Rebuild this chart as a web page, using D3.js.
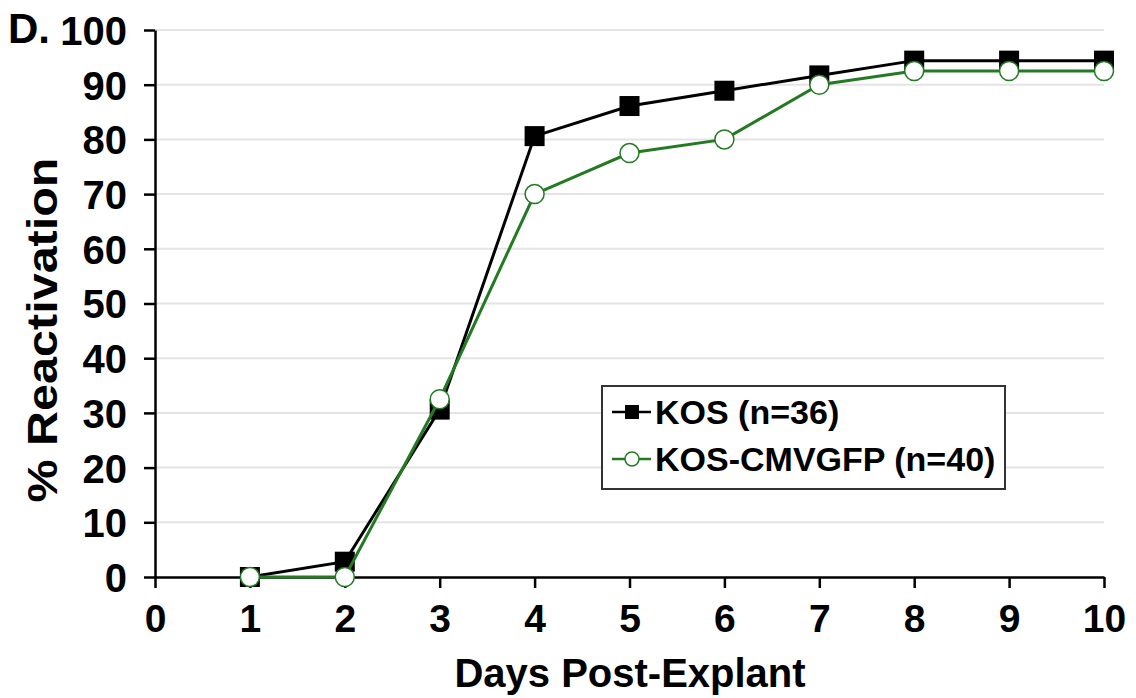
<!DOCTYPE html>
<html>
<head>
<meta charset="utf-8">
<script src="https://cdn.jsdelivr.net/npm/d3@7"></script>
<style>
  body { margin: 0; background: #fff; }
  svg text { font-family: "Liberation Sans", Arial, sans-serif; font-weight: bold; fill: #000; }
</style>
</head>
<body>
<svg width="1136" height="698"></svg>
<script>
// data
var days = [1, 2, 3, 4, 5, 6, 7, 8, 9, 10];
var kos = [0, 2.8, 30.6, 80.6, 86.1, 88.9, 91.7, 94.4, 94.4, 94.4];
var kosGfp = [0, 0, 32.5, 70, 77.5, 80, 90, 92.5, 92.5, 92.5];
var xTicks = [0, 1, 2, 3, 4, 5, 6, 7, 8, 9, 10];
var yTicks = [0, 10, 20, 30, 40, 50, 60, 70, 80, 90, 100];
var seriesNames = ["KOS (n=36)", "KOS-CMVGFP (n=40)"];

var green = "#237a23";

var svg = d3.select("svg");

var x = d3.scaleLinear().domain([0, 10]).range([155, 1104]);
var y = d3.scaleLinear().domain([0, 100]).range([577, 30]);

// gridlines
svg.append("g")
  .selectAll("line")
  .data(yTicks.filter(function(d) { return d > 0; }))
  .enter().append("line")
  .attr("x1", x(0)).attr("x2", x(10))
  .attr("y1", function(d) { return y(d); })
  .attr("y2", function(d) { return y(d); })
  .attr("stroke", "#e4e4e4")
  .attr("stroke-width", 2);

// x axis
var xAxis = svg.append("g")
  .attr("transform", "translate(0," + y(0) + ")")
  .call(d3.axisBottom(x).tickValues(xTicks).tickSize(11).tickPadding(16).tickSizeOuter(0));
xAxis.select(".domain").attr("stroke", "#000").attr("stroke-width", 2.5);
xAxis.selectAll(".tick line").attr("stroke", "#000").attr("stroke-width", 2.5);
xAxis.selectAll(".tick text").attr("font-size", "39px").attr("dy", "0.71em");

// y axis
var yAxis = svg.append("g")
  .attr("transform", "translate(" + x(0) + ",0)")
  .call(d3.axisLeft(y).tickValues(yTicks).tickSize(11).tickPadding(17).tickSizeOuter(0));
yAxis.select(".domain").attr("stroke", "#000").attr("stroke-width", 2.5);
yAxis.selectAll(".tick line").attr("stroke", "#000").attr("stroke-width", 2.5);
yAxis.selectAll(".tick text").attr("font-size", "40px").attr("dy", "0.36em");

// titles
svg.append("text")
  .attr("x", 630).attr("y", 687)
  .attr("text-anchor", "middle")
  .attr("font-size", "40px")
  .text("Days Post-Explant");

svg.append("text")
  .attr("transform", "translate(57,330) rotate(-90)")
  .attr("text-anchor", "middle")
  .attr("font-size", "42px")
  .attr("textLength", 345)
  .attr("lengthAdjust", "spacingAndGlyphs")
  .text("% Reactivation");

svg.append("text")
  .attr("x", 8).attr("y", 43)
  .attr("font-size", "42px")
  .text("D.");

// lines
var line = d3.line()
  .x(function(d, i) { return x(days[i]); })
  .y(function(d) { return y(d); });

svg.append("path")
  .datum(kos)
  .attr("d", line)
  .attr("fill", "none")
  .attr("stroke", "#000")
  .attr("stroke-width", 3);

svg.append("g")
  .selectAll("rect")
  .data(kos)
  .enter().append("rect")
  .attr("x", function(d, i) { return x(days[i]) - 10; })
  .attr("y", function(d) { return y(d) - 10; })
  .attr("width", 20).attr("height", 20)
  .attr("fill", "#000");

svg.append("path")
  .datum(kosGfp)
  .attr("d", line)
  .attr("fill", "none")
  .attr("stroke", green)
  .attr("stroke-width", 3);

svg.append("g")
  .selectAll("circle")
  .data(kosGfp)
  .enter().append("circle")
  .attr("cx", function(d, i) { return x(days[i]); })
  .attr("cy", function(d) { return y(d); })
  .attr("r", 9.5)
  .attr("fill", "#fff")
  .attr("stroke", green)
  .attr("stroke-width", 1.5);

// legend
var legend = svg.append("g");
legend.append("rect")
  .attr("x", 602).attr("y", 386)
  .attr("width", 403).attr("height", 103)
  .attr("fill", "#fff")
  .attr("stroke", "#333")
  .attr("stroke-width", 2);

var rows = legend.selectAll("g.row")
  .data(seriesNames)
  .enter().append("g")
  .attr("class", "row")
  .attr("transform", function(d, i) { return "translate(0," + (412 + i * 47) + ")"; });

rows.append("line")
  .attr("x1", 612).attr("x2", 651)
  .attr("stroke", function(d, i) { return i === 0 ? "#000" : green; })
  .attr("stroke-width", 2.5);

rows.filter(function(d, i) { return i === 0; })
  .append("rect")
  .attr("x", 625).attr("y", -7)
  .attr("width", 14).attr("height", 14)
  .attr("fill", "#000");

rows.filter(function(d, i) { return i === 1; })
  .append("circle")
  .attr("cx", 632).attr("cy", 0).attr("r", 7)
  .attr("fill", "#fff")
  .attr("stroke", green)
  .attr("stroke-width", 1.5);

rows.append("text")
  .attr("x", 655).attr("y", 0)
  .attr("dy", "0.35em")
  .attr("font-size", "34px")
  .text(function(d) { return d; });
</script>
</body>
</html>
